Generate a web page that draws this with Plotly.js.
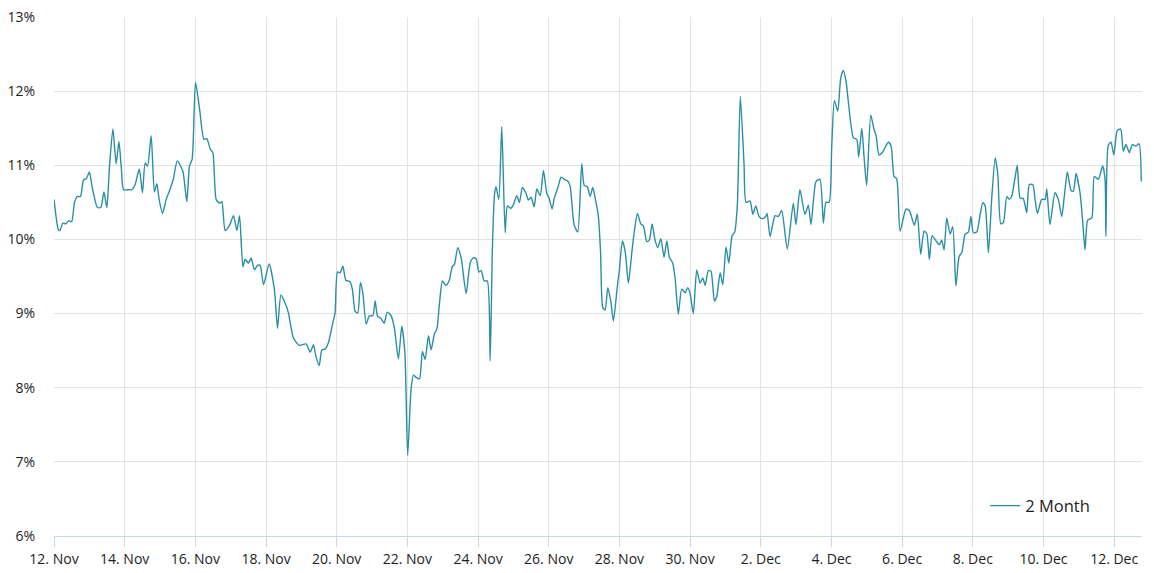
<!DOCTYPE html>
<html>
<head>
<meta charset="utf-8">
<script src="https://cdn.plot.ly/plotly-3.0.1.min.js"></script>
<style>html,body{margin:0;padding:0;background:#fff;}#chart{width:1154px;height:573px;}</style>
</head>
<body>
<div id="chart"></div>
<script>
// Hours since 12 Nov 00:00 (UTC)
const startDate = Date.UTC(2024, 10, 12);
const hoursSinceStart = [
0,3,4,6,8,10,12,14,16,18,20,22,24,26,29.5,31.8,33.9,35.9,37.7,40,42.2,44.1,45.8,47.2,49.9,52.9,55.1,57.9,60.1,61.9,63.5,66,68.2,69.9,71.4,73.7,76.2,78.9,81.1,83.7,87.5,90.2,92,93.8,96.1,98.8,101.8,103.8,106.1,107.9,110.1,112.4,114,116.2,119.2,
121.9,124.2,126,128.3,129.8,132.1,133.9,136.1,138.2,140,142.3,146.1,149.7,151.8,154.1,157,159.2,162.6,166.7,171.2,174,176.2,177.8,180.1,181.9,184.1,186.4,189.4,190.9,192.5,194.3,196.2,198.2,201.1,202.7,204.5,206.3,208.1,209.7,212,214.2,216.5,218.1,219.7,222.2,224.2,226.4,229,231.2,233.9,236.2,238.3,
240.2,242.5,244.1,245.9,248.2,250.2,252,254.3,256.1,258.4,260,261.8,263.8,266.1,268.3,270.6,271.9,274.2,276.5,279.9,282.6,284.8,286.7,288.5,290.1,292.1,294.3,296.2,297.7,299.1,300.2,302.1,304.1,306.4,307.9,310.2,312,314.3,316.1,318.1,320.4,322.2,324,326.1,327.9,330.2,332.4,334.7,336.2,338.3,339.8,342.2,344.4,346.6,348.7,350.5,353.2,355.7,358.4,360.1,362.2,364.1,365.9,367.5,369.7,
371.2,372.7,374.3,376.1,378.1,379.9,382.6,384,386,387.9,390.1,392.4,394,396.2,398.5,400.3,402.6,404.3,406.2,408.2,410,412.1,414.3,416.2,417.9,420.2,421.8,424,426.3,428.6,430.4,431.9,434.2,436.5,438.8,440.6,442.2,444.4,446.2,448.5,450.1,452.4,454.2,456.4,458.3,460.5,462.3,464.1,466.1,468.6,470,472.7,474.6,476.6,478.8,481.1,483.4,484.3,486.3,489.7,491.9,494.2,498,502.1,503.9,506.6,510,512.3,514.1,517.5,520.2,522.5,524.3,526.4,
528.2,530,532.3,534.3,536.1,537.9,542.9,545.2,546.5,548.6,550.1,551.9,554.7,556.9,558.3,560.3,562.8,566.6,568.5,570.5,572.3,574.6,578.6,580.9,584.3,586.3,588.6,590.9,592.7,594.5,596.3,599,601.3,602.9,604.5,606.3,608.6,610.4,612.5,614.7,616.5,618.8,621,622.7,624.4,626.7,629,630.8,632.4,634.6,636.8,639.2,641,643,644.8,647.1,648.8,650.4,652.5,654.2,656.1,658.3,660.6,662.4,664.7,666.3,667.8,670.8,673.1,674.2,676.4,679.8,682.1,684.4,686.3,688.2,690.7,692.3,694.1,696.8,698.5,700.2,702,704.8,706.5,709.2,712.2,713.8,714.4,716,717.8,719.8,722.1,724.4,726.2,728,730.3,732.3,734.6,736.9,738.4
];
// 2 Month rate, percent
const rate2Month = [
10.54,10.13,10.12,10.22,10.21,10.25,10.24,10.51,10.58,10.58,10.80,10.82,10.91,10.70,10.43,10.43,10.64,10.43,10.99,11.49,11.02,11.32,10.94,10.67,10.67,10.67,10.74,10.95,10.63,11.03,10.99,11.40,10.64,10.75,10.54,10.35,10.54,10.68,10.82,11.06,10.92,10.51,10.99,11.08,12.12,11.77,11.35,11.36,11.22,11.17,10.54,10.49,10.51,10.12,10.19,
10.32,10.12,10.32,9.63,9.73,9.68,9.75,9.59,9.65,9.65,9.39,9.67,9.32,8.80,9.25,9.14,9.01,8.67,8.57,8.59,8.48,8.58,8.43,8.30,8.51,8.52,8.61,8.88,9.01,9.56,9.55,9.64,9.45,9.43,9.32,9.03,9.01,9.42,9.29,8.86,8.97,8.97,9.17,8.97,8.93,8.87,9.02,8.97,8.80,8.39,8.83,8.47,
7.09,7.98,8.17,8.14,8.12,8.49,8.38,8.70,8.51,8.73,8.79,9.14,9.44,9.38,9.44,9.64,9.66,9.89,9.75,9.27,9.68,9.75,9.74,9.56,9.58,9.44,9.44,8.36,9.86,10.59,10.71,10.54,11.52,10.09,10.45,10.42,10.47,10.59,10.50,10.70,10.63,10.53,10.57,10.44,10.68,10.59,10.93,10.62,10.56,10.41,10.56,10.70,10.84,10.81,10.79,10.72,10.20,10.10,11.02,10.73,10.71,10.58,10.70,10.56,10.31,
9.82,9.08,9.05,9.35,9.17,8.90,9.37,9.59,9.98,9.84,9.41,9.82,10.09,10.35,10.21,10.18,9.97,9.99,10.21,9.99,9.89,10.01,9.76,9.98,9.76,9.68,9.48,8.99,9.33,9.28,9.35,9.28,9.00,9.59,9.41,9.48,9.38,9.58,9.57,9.17,9.23,9.55,9.39,9.90,9.68,10.05,10.10,10.47,11.93,11.03,10.50,10.52,10.34,10.45,10.31,10.28,10.31,10.35,10.04,10.32,10.31,10.39,9.87,10.49,10.20,10.67,10.34,10.46,10.20,10.78,10.81,10.22,10.50,10.50,
11.26,11.87,11.73,12.18,12.28,12.13,11.37,11.35,11.11,11.50,11.12,10.73,11.68,11.48,11.40,11.14,11.18,11.31,11.26,10.85,10.82,10.11,10.41,10.39,10.19,10.34,9.80,10.11,10.08,9.73,10.05,9.98,9.93,9.99,9.86,10.29,10.07,10.17,9.37,9.77,9.82,10.07,10.10,10.31,10.09,10.10,10.34,10.50,10.45,9.82,10.54,11.10,10.87,10.21,10.23,10.58,10.54,10.58,10.81,11.00,10.56,10.55,10.36,10.74,10.74,10.54,10.35,10.54,10.54,10.68,10.20,10.63,10.54,10.31,10.61,10.91,10.66,10.65,10.89,10.63,10.27,9.86,10.26,10.29,10.85,10.81,10.99,10.81,10.04,11.27,11.31,11.14,11.47,11.49,11.19,11.28,11.17,11.28,11.26,11.29,10.78
];
const seriesName = '2 Month';
const yTickSuffix = '%';

function toDateStr(h) {
  return new Date(startDate + h * 3600e3).toISOString().slice(0, 19).replace('T', ' ');
}
const xDates = hoursSinceStart.map(toDateStr);
const xStart = toDateStr(0);
const xEnd = toDateStr(738.9);

const font = {family: 'Open Sans, Noto Sans, sans-serif', size: 14, color: '#1e1e1e'};

Plotly.newPlot('chart', [{
  type: 'scatter',
  mode: 'lines',
  x: xDates,
  y: rate2Month,
  name: seriesName,
  line: {color: '#2a8fa4', width: 1.4, shape: 'spline', smoothing: 0.6},
  showlegend: true,
  hoverinfo: 'x+y'
}], {
  width: 1154, height: 573,
  margin: {l: 54, r: 12, t: 17, b: 37, pad: 0},
  paper_bgcolor: '#ffffff', plot_bgcolor: '#ffffff',
  font: font,
  showlegend: true,
  legend: {
    x: 0.957, xanchor: 'right', y: 0.058, yanchor: 'middle',
    bgcolor: 'rgba(0,0,0,0)', borderwidth: 0,
    font: {family: 'Open Sans, Noto Sans, sans-serif', size: 16.5, color: '#1e1e1e'}
  },
  xaxis: {
    type: 'date',
    range: [xStart, xEnd],
    tick0: toDateStr(0),
    dtick: 2 * 86400000,
    tickformat: '%-d. %b',
    ticks: 'outside', ticklen: 10, tickcolor: '#ccd6eb', tickwidth: 1,
    showline: true, linecolor: '#ccd6eb', linewidth: 1,
    showgrid: true, gridcolor: '#e3e3e3', gridwidth: 1,
    zeroline: false,
    tickfont: font
  },
  yaxis: {
    range: [6, 13],
    dtick: 1, tick0: 6,
    ticksuffix: yTickSuffix,
    showgrid: true, gridcolor: '#e3e3e3', gridwidth: 1,
    zeroline: false, showline: false,
    ticks: '', ticklabelstandoff: 18,
    tickfont: font
  }
}, {displayModeBar: false, staticPlot: true});
</script>
</body>
</html>
